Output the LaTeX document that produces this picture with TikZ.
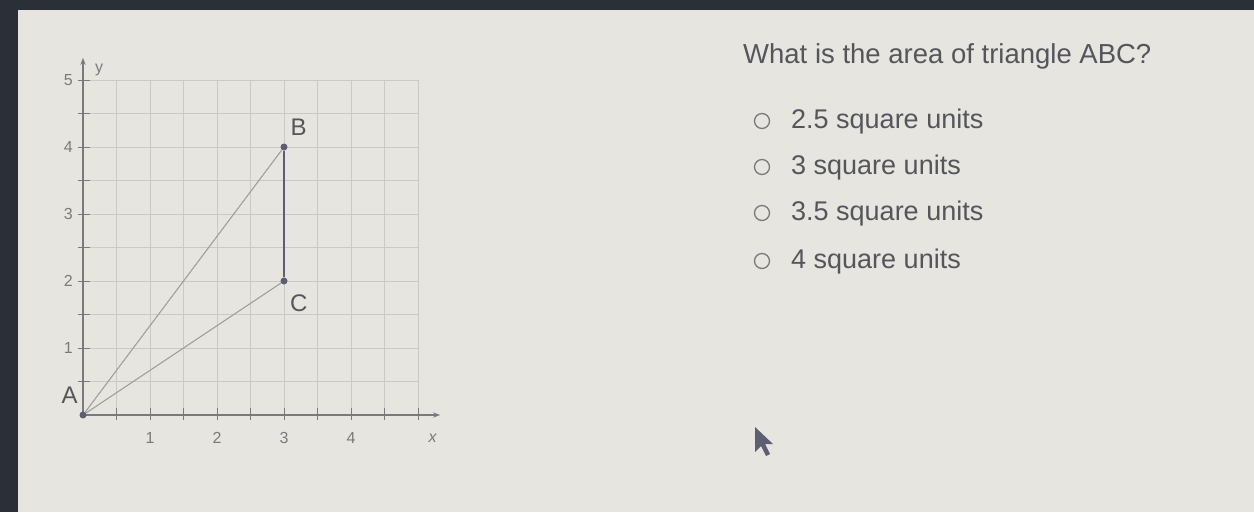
\documentclass[tikz,border=0pt]{standalone}
\usepackage{fontspec}
\setmainfont{Liberation Sans}
\usepackage{xcolor}
\usetikzlibrary{arrows.meta}

\definecolor{screenbg}{HTML}{E6E5DF}
\definecolor{bezel}{HTML}{2B2F38}
\definecolor{gridgray}{HTML}{C9C9C6}
\definecolor{axisgray}{HTML}{7A7A7C}
\definecolor{inkgray}{HTML}{55555C}
\definecolor{segblue}{HTML}{5E5E72}

\tikzset{
	vtx/.style={circle, fill=segblue, inner sep=0pt, minimum size=7pt},
	ptlabel/.style={font=\fontsize{24}{26}\selectfont, text=inkgray},
	ticklabel/.style={font=\fontsize{16}{18}\selectfont, text=axisgray},
	radio/.style={circle, draw=axisgray, line width=1.3pt, inner sep=0pt, minimum size=15pt},
	answer/.style={anchor=west, font=\fontsize{27}{30}\selectfont, text=inkgray, inner sep=0pt},
}

\begin{document}
\begin{tikzpicture}[x=1pt, y=-1pt]
	\useasboundingbox (0,0) rectangle (1254,512);
	% screen and bezel
	\fill[screenbg] (0,0) rectangle (1254,512);
	\fill[bezel] (0,0) rectangle (18,512);
	\fill[bezel] (0,0) rectangle (1254,10);

	% coordinate grid
	\begin{scope}[xshift=83pt, yshift=-415pt, x=67pt, y=67pt]
		\draw[gridgray, line width=0.8pt] (0,0) grid[step=0.5] (5,5);
		\draw[axisgray, line width=1.2pt, -{Stealth[length=7pt]}] (0,0) -- (5.33,0);
		\draw[axisgray, line width=1.2pt, -{Stealth[length=7pt]}] (0,0) -- (0,5.33);
		\foreach \t in {0.5,1,...,5} {
			\draw[axisgray, line width=1pt] (\t,-0.08) -- (\t,0.1);
			\draw[axisgray, line width=1pt] (-0.08,\t) -- (0.1,\t);
		}
		\foreach \n in {1,2,3,4} {
			\node[ticklabel] (xl\n) at (\n,-0.34) {\n};
		}
		\foreach \n in {1,2,3,4,5} {
			\node[ticklabel, anchor=east] (yl\n) at (-0.1,\n) {\n};
		}
		\node[ticklabel] (xname) at (5.22,-0.34) {\itshape x};
		\node[ticklabel] (yname) at (0.24,5.15) {y};

		% triangle ABC
		\node[vtx] (A) at (0,0) {};
		\node[vtx] (B) at (3,4) {};
		\node[vtx] (C) at (3,2) {};
		\draw[gray!75, line width=1.1pt] (A) -- (B);
		\draw[gray!75, line width=1.1pt] (A) -- (C);
		\draw[segblue, line width=1.3pt] (B) -- (C);
		\node[ptlabel] (lA) at (-0.2,0.3) {A};
		\node[ptlabel] (lB) at (3.22,4.3) {B};
		\node[ptlabel] (lC) at (3.22,1.67) {C};
	\end{scope}

	% question and choices
	\node[anchor=west, font=\fontsize{27.5}{30}\selectfont, text=inkgray, inner sep=0pt] (q) at (743,56) {What is the area of triangle ABC?};
	\node[radio] (r1) at (762,121) {};
	\node[radio] (r2) at (762,167) {};
	\node[radio] (r3) at (762,213) {};
	\node[radio] (r4) at (762,261) {};
	\node[answer] (a1) at (791,122) {2.5 square units};
	\node[answer] (a2) at (791,168) {3 square units};
	\node[answer] (a3) at (791,214) {3.5 square units};
	\node[answer] (a4) at (791,262) {4 square units};

	% mouse pointer
	\fill[segblue] (755,427) -- (755,452) -- (761,446) -- (766,456) -- (770,454) -- (765,444) -- (773,444) -- cycle;
\end{tikzpicture}
\end{document}
